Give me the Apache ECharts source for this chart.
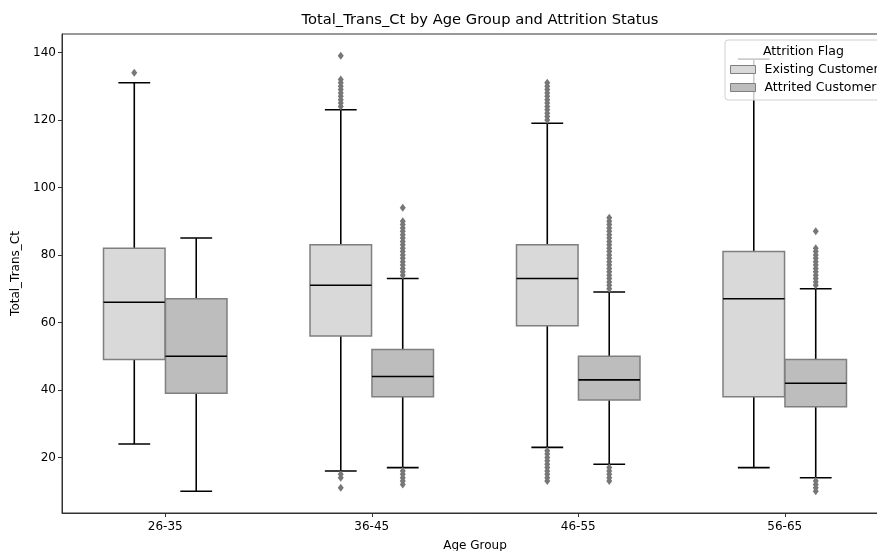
<!DOCTYPE html>
<html>
<head>
<meta charset="utf-8">
<title>Total_Trans_Ct by Age Group and Attrition Status</title>
<script src="https://cdn.jsdelivr.net/npm/echarts@6/dist/echarts.min.js"></script>
<style>
  html, body { margin: 0; padding: 0; background: #fff; }
  #chart { width: 877px; height: 551px; }
</style>
</head>
<body>
<div id="chart"></div>
<script>
// Age groups on the x axis
const categories = ['26-35', '36-45', '46-55', '56-65'];
const seriesNames = ['Existing Customer', 'Attrited Customer'];

// Box statistics per age group: [lower whisker, Q1, median, Q3, upper whisker]
const existingStats = [
  [24, 49, 66, 82, 131],
  [16, 56, 71, 83, 123],
  [23, 59, 73, 83, 119],
  [17, 38, 67, 81, 138]
];
const attritedStats = [
  [10, 39, 50, 67, 85],
  [17, 38, 44, 52, 73],
  [18, 37, 43, 50, 69],
  [14, 35, 42, 49, 70]
];

// Outlier values per age group
const existingOutliers = [
  [134],
  [124, 125, 126, 127, 128, 129, 130, 131, 132, 139, 15, 14, 11],
  [120, 121, 122, 123, 124, 125, 126, 127, 128, 129, 130, 131,
   22, 21, 20, 19, 18, 17, 16, 15, 14, 13],
  []
];
const attritedOutliers = [
  [],
  [74, 75, 76, 77, 78, 79, 80, 81, 82, 83, 84, 85, 86, 87, 88, 89, 90, 94,
   16, 15, 14, 13, 12],
  [70, 71, 72, 73, 74, 75, 76, 77, 78, 79, 80, 81, 82, 83, 84, 85, 86, 87, 88, 89, 90, 91,
   17, 16, 15, 14, 13],
  [71, 72, 73, 74, 75, 76, 77, 78, 79, 80, 81, 82, 87, 13, 12, 11, 10]
];

const yTicks = [20, 40, 60, 80, 100, 120, 140];

// Layout constants (in category units)
const HUE_OFFSET = [-0.15, 0.15];
const BOX_HALF = 0.149;
const CAP_HALF = 0.077;

const FILLS = ['#d9d9d9', '#bdbdbd'];
const EDGE = '#7f7f7f';
const FONT = 'DejaVu Sans';

function renderBox(params, api) {
  const x = api.value(0);
  const low = api.coord([x, api.value(1)]);
  const q1 = api.coord([x, api.value(2)]);
  const med = api.coord([x, api.value(3)]);
  const q3 = api.coord([x, api.value(4)]);
  const high = api.coord([x, api.value(5)]);
  const bl = api.coord([x - BOX_HALF, 0])[0];
  const br = api.coord([x + BOX_HALF, 0])[0];
  const cl = api.coord([x - CAP_HALF, 0])[0];
  const cr = api.coord([x + CAP_HALF, 0])[0];
  const fill = api.visual('color');
  const line = { stroke: '#000', lineWidth: 1.6 };
  return {
    type: 'group',
    children: [
      { type: 'line', shape: { x1: q3[0], y1: q3[1], x2: high[0], y2: high[1] }, style: line },
      { type: 'line', shape: { x1: q1[0], y1: q1[1], x2: low[0], y2: low[1] }, style: line },
      { type: 'line', shape: { x1: cl, y1: high[1], x2: cr, y2: high[1] }, style: line },
      { type: 'line', shape: { x1: cl, y1: low[1], x2: cr, y2: low[1] }, style: line },
      { type: 'rect', shape: { x: bl, y: q3[1], width: br - bl, height: q1[1] - q3[1] },
        style: { fill: fill, stroke: EDGE, lineWidth: 1.5 } },
      { type: 'line', shape: { x1: bl, y1: med[1], x2: br, y2: med[1] }, style: line }
    ]
  };
}

const statsByHue = [existingStats, attritedStats];
const outliersByHue = [existingOutliers, attritedOutliers];

const series = [];
seriesNames.forEach(function (name, h) {
  series.push({
    name: name,
    type: 'custom',
    xAxisIndex: 1,
    yAxisIndex: 0,
    itemStyle: { color: FILLS[h] },
    renderItem: renderBox,
    encode: { x: 0, y: [1, 2, 3, 4, 5] },
    data: statsByHue[h].map(function (s, i) { return [i + HUE_OFFSET[h]].concat(s); }),
    z: 2
  });
  const pts = [];
  outliersByHue[h].forEach(function (vals, i) {
    vals.forEach(function (v) { pts.push([i + HUE_OFFSET[h], v]); });
  });
  series.push({
    name: name,
    type: 'scatter',
    xAxisIndex: 1,
    yAxisIndex: 0,
    symbol: 'diamond',
    symbolSize: [6, 8],
    itemStyle: { color: '#777777', opacity: 1 },
    data: pts,
    z: 3
  });
});

const chart = echarts.init(document.getElementById('chart'), null, { renderer: 'canvas' });
chart.setOption({
  animation: false,
  backgroundColor: '#ffffff',
  textStyle: { fontFamily: FONT },
  title: {
    text: 'Total_Trans_Ct by Age Group and Attrition Status',
    left: 475,
    textAlign: 'center',
    top: 8,
    textStyle: { fontFamily: FONT, fontSize: 14.7, fontWeight: 'normal', color: '#000' }
  },
  grid: {
    left: 62, right: -11, top: 34, bottom: 38,
    outerBoundsMode: 'none',
    containLabel: false,
    show: true, borderColor: '#333', borderWidth: 1, backgroundColor: 'transparent'
  },
  legend: {
    orient: 'vertical',
    left: 725,
    top: 40,
    padding: [23, 20, 6, 5],
    itemWidth: 25,
    itemHeight: 8,
    itemGap: 5,
    backgroundColor: 'rgba(255,255,255,0.8)',
    borderColor: '#d0d0d0',
    borderWidth: 1,
    borderRadius: 3,
    selectedMode: false,
    textStyle: { fontFamily: FONT, fontSize: 12.5, color: '#000', padding: [0, 0, 0, 4] },
    data: seriesNames.map(function (n, h) {
      return { name: n, icon: 'rect', itemStyle: { color: FILLS[h], borderColor: EDGE, borderWidth: 1 } };
    }),
    z: 10
  },
  graphic: [{
    type: 'text',
    left: 763,
    top: 45,
    z: 20,
    style: { text: 'Attrition Flag', font: '12.5px "DejaVu Sans"', fill: '#000' }
  }],
  xAxis: [{
    type: 'category',
    data: categories,
    boundaryGap: true,
    name: 'Age Group',
    nameLocation: 'middle',
    nameGap: 27,
    nameTextStyle: { fontFamily: FONT, fontSize: 12, color: '#000' },
    axisLine: { show: true, onZero: false, lineStyle: { color: '#333', width: 1 } },
    axisTick: { show: true, alignWithLabel: true, length: 4, lineStyle: { color: '#333' } },
    axisLabel: { fontFamily: FONT, fontSize: 12, color: '#000', margin: 8 },
    splitLine: { show: false }
  }, {
    type: 'value',
    min: -0.5,
    max: 3.5,
    show: false
  }],
  yAxis: [{
    type: 'value',
    min: 3.55,
    max: 145.45,
    name: 'Total_Trans_Ct',
    nameLocation: 'middle',
    nameGap: 36,
    nameTextStyle: { fontFamily: FONT, fontSize: 12, color: '#000' },
    axisLine: { show: true, onZero: false, lineStyle: { color: '#333', width: 1 } },
    axisTick: { show: true, length: 4, customValues: yTicks, lineStyle: { color: '#333' } },
    axisLabel: { fontFamily: FONT, fontSize: 12, color: '#000', margin: 6, customValues: yTicks },
    splitLine: { show: false }
  }],
  series: series
});
</script>
</body>
</html>
